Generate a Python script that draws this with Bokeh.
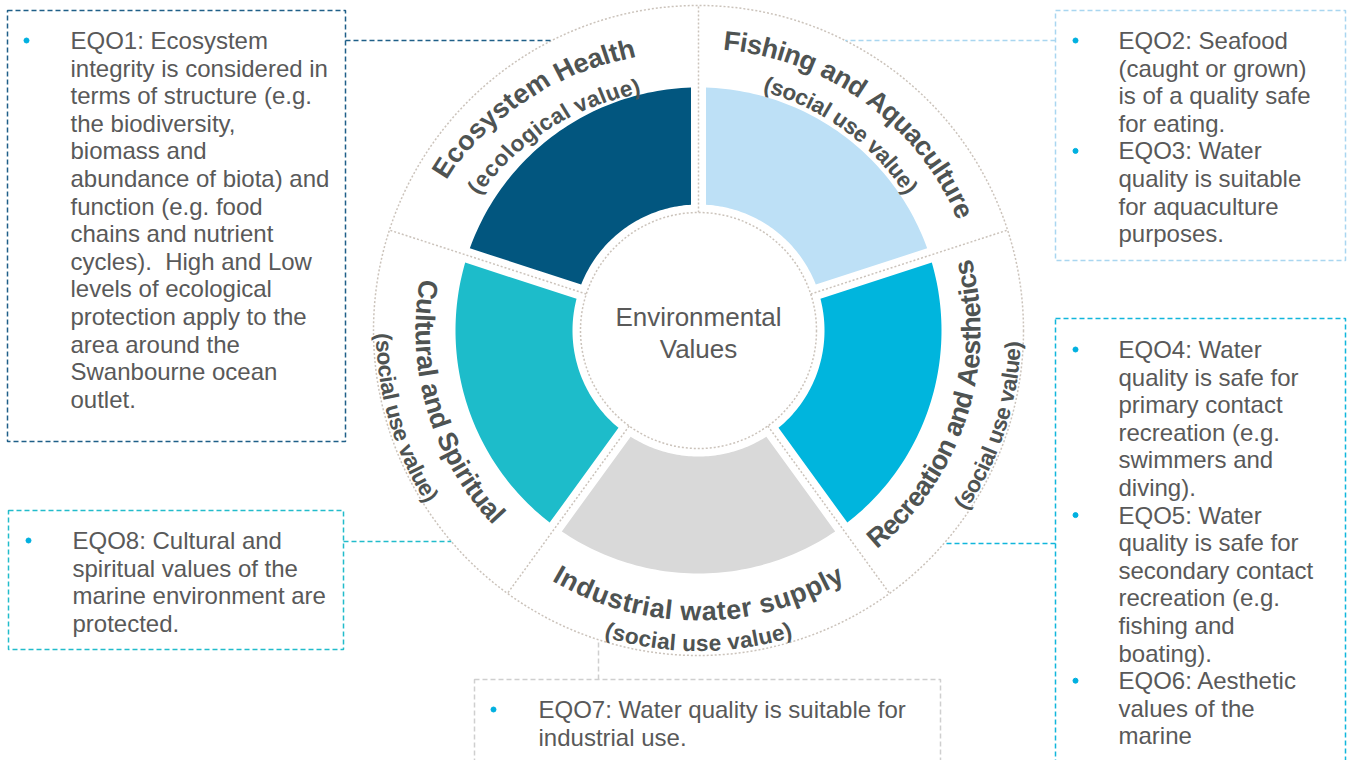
import math
from bokeh.plotting import figure
from bokeh.models import Range1d
from bokeh.embed import file_html
from bokeh.resources import INLINE
from bokeh.core.properties import value

# ---------------- data ----------------
segment_names = ["Fishing and Aquaculture", "Recreation and Aesthetics",
                 "Industrial water supply", "Cultural and Spiritual", "Ecosystem Health"]
segment_subs = ["(social use value)", "(social use value)", "(social use value)",
                "(social use value)", "(ecological value)"]
segment_colors = ["#bde0f6", "#00b5dd", "#d9d9d9", "#1dbcca", "#02567f"]
center_lines = ["Environmental", "Values"]

eqo1_items = [["EQO1: Ecosystem", "integrity is considered in", "terms of structure (e.g.",
               "the biodiversity,", "biomass and", "abundance of biota) and",
               "function (e.g. food", "chains and nutrient", "cycles).\u00a0 High and Low",
               "levels of ecological", "protection apply to the", "area around the",
               "Swanbourne ocean", "outlet."]]
eqo23_items = [["EQO2: Seafood", "(caught or grown)", "is of a quality safe", "for eating."],
               ["EQO3: Water", "quality is suitable", "for aquaculture", "purposes."]]
eqo456_items = [["EQO4: Water", "quality is safe for", "primary contact", "recreation (e.g.",
                 "swimmers and", "diving)."],
                ["EQO5: Water", "quality is safe for", "secondary contact", "recreation (e.g.",
                 "fishing and", "boating)."],
                ["EQO6: Aesthetic", "values of the", "marine"]]
eqo8_items = [["EQO8: Cultural and", "spiritual values of the", "marine environment are",
               "protected."]]
eqo7_items = [["EQO7: Water quality is suitable for", "industrial use."]]

# ---------------- style / layout ----------------
W, H = 1351, 760
def Y(sy):  # screen y -> data y
    return H - sy

CX, CY = 698, Y(330)
R_OUT, R_CIRC = 325, 118
R_SEG_IN, R_SEG_OUT, GAP = 126, 243, 7.5
DOT = "#cbc3bb"
LABEL_COL = "#4e5352"
BOX_TXT = "#595959"
BULLET = "#00b0e0"
MAIN_FS, SUB_FS = 27, 22.5
# per-label arc placement:
# (main r start, main r end, main span deg, sub r start, sub r end, sub span deg, centre shift deg)
ARC = [(291, 291, 62, 255, 255, 42, 0),
       (273, 273, 65.5, 315, 315, 32, 0),
       (281, 281, 61, 313, 313, 34.4, 0),
       (274, 274, 54, 315, 315, 32, -1.5),
       (303, 289, 46.5, 265, 251, 45, 0)]

# Helvetica-Bold advance widths (1/1000 em)
BW = {' ': 278, '(': 333, ')': 333, 'A': 722, 'C': 722, 'E': 667, 'F': 611, 'H': 722,
      'I': 278, 'R': 722, 'S': 667, 'a': 556, 'c': 556, 'd': 611, 'e': 556, 'g': 611,
      'h': 611, 'i': 278, 'l': 278, 'm': 889, 'n': 611, 'o': 611, 'p': 611, 'q': 611,
      'r': 389, 's': 556, 't': 333, 'u': 611, 'v': 556, 'w': 778, 'y': 556}

p = figure(width=W, height=H, x_range=Range1d(0, W), y_range=Range1d(0, H),
           output_backend="svg", toolbar_location=None, min_border=0,
           x_axis_location=None, y_axis_location=None)
p.grid.visible = False
p.outline_line_color = None
p.background_fill_color = "white"

# outer ring
p.circle(x=[CX], y=[CY], radius=R_OUT, fill_color="white", line_color=DOT,
         line_width=1.5, line_dash="2 2")

n = len(segment_names)
step = 2 * math.pi / n
bounds = [math.pi / 2 - i * step for i in range(n + 1)]

# dividers
dx0, dy0, dx1, dy1 = [], [], [], []
for b in bounds[:-1]:
    dx0.append(CX + R_CIRC * math.cos(b)); dy0.append(CY + R_CIRC * math.sin(b))
    dx1.append(CX + R_OUT * math.cos(b)); dy1.append(CY + R_OUT * math.sin(b))
p.segment(dx0, dy0, dx1, dy1, line_color=DOT, line_width=1.5, line_dash="2 2")

# coloured segments (parallel gaps)
xs, ys = [], []
for i in range(n):
    a_hi, a_lo = bounds[i], bounds[i + 1]
    px, py = [], []
    o_hi = a_hi - math.asin(GAP / R_SEG_OUT); o_lo = a_lo + math.asin(GAP / R_SEG_OUT)
    i_hi = a_hi - math.asin(GAP / R_SEG_IN); i_lo = a_lo + math.asin(GAP / R_SEG_IN)
    m = 60
    for k in range(m + 1):
        t = o_hi + (o_lo - o_hi) * k / m
        px.append(CX + R_SEG_OUT * math.cos(t)); py.append(CY + R_SEG_OUT * math.sin(t))
    for k in range(m + 1):
        t = i_lo + (i_hi - i_lo) * k / m
        px.append(CX + R_SEG_IN * math.cos(t)); py.append(CY + R_SEG_IN * math.sin(t))
    xs.append(px); ys.append(py)
p.patches(xs, ys, fill_color=segment_colors, line_color=None)

# centre circle
p.circle(x=[CX], y=[CY], radius=R_CIRC, fill_color="white", line_color=DOT,
         line_width=1.5, line_dash="2 2")
p.text(x=[CX, CX], y=[Y(316), Y(348)], text=center_lines, text_align="center",
       text_baseline="middle", text_font=value("Liberation Sans"),
       text_font_size="26px", text_color=BOX_TXT)


def arc_text(label, r0, r1, theta_c, fs, clockwise, span_deg):
    ws = [BW.get(ch, 556) * fs / 1000.0 for ch in label]
    tot_w = sum(ws)
    total = math.radians(span_deg)
    out = ([], [], [], [])
    cum = 0.0
    for ch, w in zip(label, ws):
        frac = (cum + w / 2) / tot_w
        r = r0 + (r1 - r0) * frac
        mid = total * frac
        if clockwise:
            th = theta_c + total / 2 - mid
            ang = th - math.pi / 2
        else:
            th = theta_c - total / 2 + mid
            ang = th + math.pi / 2
        cum += w
        if ch == " ":
            continue
        out[0].append(CX + r * math.cos(th)); out[1].append(CY + r * math.sin(th))
        out[2].append(ch); out[3].append(ang)
    return out


main = ([], [], [], []); sub = ([], [], [], [])
for i in range(n):
    rm0, rm1, sm, rs0, rs1, ss, dth = ARC[i]
    tc = (bounds[i] + bounds[i + 1]) / 2 + math.radians(dth)
    cw = math.sin(tc) > 0
    a = arc_text(segment_names[i], rm0, rm1, tc, MAIN_FS, cw, sm)
    b = arc_text(segment_subs[i], rs0, rs1, tc, SUB_FS, cw, ss)
    for k in range(4):
        main[k].extend(a[k]); sub[k].extend(b[k])

p.text(x=main[0], y=main[1], text=main[2], angle=main[3], text_align="center",
       text_baseline="alphabetic", text_font=value("Liberation Sans"),
       text_font_style="bold", text_font_size=f"{MAIN_FS}px", text_color=LABEL_COL)
p.text(x=sub[0], y=sub[1], text=sub[2], angle=sub[3], text_align="center",
       text_baseline="alphabetic", text_font=value("Liberation Sans"),
       text_font_style="bold", text_font_size=f"{SUB_FS}px", text_color=LABEL_COL)

# ---------------- boxes ----------------
boxes = [
    dict(items=eqo1_items, l=7, r=345, t=10, b=441, tx=70, bx=26, y0=40, col="#1f5f88",
         conn=("left", 40)),
    dict(items=eqo23_items, l=1055, r=1345, t=10, b=260, tx=1118, bx=1075, y0=40,
         col="#a9d6f0", conn=("right", 40)),
    dict(items=eqo456_items, l=1055, r=1345, t=318, b=775, tx=1118, bx=1075, y0=349,
         col="#11b6dc", conn=("right", 543)),
    dict(items=eqo8_items, l=8, r=343, t=510, b=649, tx=72, bx=28, y0=540,
         col="#22bccb", conn=("left", 541)),
    dict(items=eqo7_items, l=474, r=940, t=679, b=775, tx=538, bx=493, y0=709,
         col="#cfcfcf", conn=("bottom", 598)),
]
LH = 27.6
for bx in boxes:
    p.quad(left=[bx["l"]], right=[bx["r"]], top=[Y(bx["t"])], bottom=[Y(bx["b"])],
           fill_color=None, line_color=bx["col"], line_width=1.5, line_dash="5 3")
    side, v = bx["conn"]
    if side == "left":
        dx = math.sqrt(R_OUT ** 2 - (Y(v) - CY) ** 2)
        p.segment([bx["r"]], [Y(v)], [CX - dx], [Y(v)], line_color=bx["col"],
                  line_width=1.5, line_dash="5 3")
    elif side == "right":
        dx = math.sqrt(R_OUT ** 2 - (Y(v) - CY) ** 2)
        p.segment([bx["l"]], [Y(v)], [CX + dx], [Y(v)], line_color=bx["col"],
                  line_width=1.5, line_dash="5 3")
    else:
        dy = math.sqrt(R_OUT ** 2 - (v - CX) ** 2)
        p.segment([v], [Y(bx["t"])], [v], [CY - dy], line_color=bx["col"],
                  line_width=1.5, line_dash="5 3")
    tx, ty, tt, bxs, bys = [], [], [], [], []
    row = 0
    for item in bx["items"]:
        bxs.append(bx["bx"]); bys.append(Y(bx["y0"] + row * LH))
        for line in item:
            tx.append(bx["tx"]); ty.append(Y(bx["y0"] + row * LH)); tt.append(line)
            row += 1
    p.text(x=tx, y=ty, text=tt, text_align="left", text_baseline="middle",
           text_font=value("Liberation Sans"), text_font_size="24px", text_color=BOX_TXT)
    p.scatter(x=bxs, y=bys, size=5, color=BULLET, marker="circle")

open("out.html", "w").write(file_html(p, INLINE))
